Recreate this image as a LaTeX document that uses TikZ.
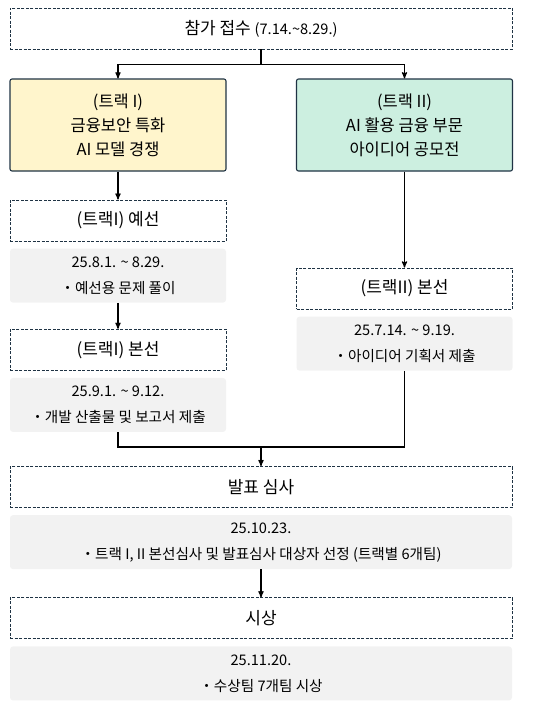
\documentclass[tikz,border=0pt]{standalone}
\usepackage{fontspec}
\setmainfont{Noto Sans CJK KR}
\usetikzlibrary{arrows,positioning}
\definecolor{edgeblue}{HTML}{1F3344}
\definecolor{notegray}{HTML}{F2F2F2}
\definecolor{trackone}{HTML}{FFF5CC}
\definecolor{tracktwo}{HTML}{CCEFE0}
\tikzset{
    %Define standard arrow tip
    >=stealth',
    %Define style for stage boxes
    stage/.style={
           rectangle,
           draw=edgeblue, line width=0.9pt,
           dash pattern=on 3pt off 1.5pt,
           minimum height=41pt,
           font=\fontsize{17}{20}\selectfont,
           text centered},
    %Define style for track boxes
    track/.style={
           rectangle,
           rounded corners=2pt,
           draw=edgeblue, line width=1.1pt,
           minimum height=92pt,
           font=\fontsize{16.5}{24}\selectfont,
           align=center},
    %Define style for date boxes
    note/.style={
           rectangle,
           rounded corners=3pt,
           fill=notegray,
           minimum height=54pt,
           font=\fontsize{14.6}{26}\selectfont,
           align=center},
    wide/.style={minimum width=502pt},
    half/.style={minimum width=216pt},
    % Define arrow style
    pil/.style={
           ->,
           line width=1.2pt}
}

\begin{document}
\begin{tikzpicture}[x=1pt,y=1pt]
\useasboundingbox (0,0) rectangle (552,-720);
\node[stage, wide] (intake) at (261,-28.5) {참가 접수 {\fontsize{14.6}{17}\selectfont(7.14.\textasciitilde 8.29.)}};
\node[track, half, fill=trackone] (trackA) at (118,-125) {(트랙 I)\\금융보안 특화\\AI 모델 경쟁};
\node[track, half, fill=tracktwo] (trackB) at (404.5,-125) {(트랙 II)\\AI 활용 금융 부문\\아이디어 공모전};
\node[stage, half, below=28pt of trackA] (prelimA) {(트랙I) 예선};
\node[note, half, below=7pt of prelimA] (prelimAnote) {25.8.1. \textasciitilde{} 8.29.\\・예선용 문제 풀이};
\node[stage, half, below=26pt of prelimAnote] (finalA) {(트랙I) 본선};
\node[note, half, below=7pt of finalA] (finalAnote) {25.9.1. \textasciitilde{} 9.12.\\・개발 산출물 및 보고서 제출};
\node[stage, half, below=96pt of trackB] (finalB) {(트랙II) 본선};
\node[note, half, below=7pt of finalB] (finalBnote) {25.7.14. \textasciitilde{} 9.19.\\・아이디어 기획서 제출};
\node[stage, wide] (review) at (261,-487) {발표 심사};
\node[note, wide, below=7pt of review] (reviewnote) {25.10.23.\\・트랙 I, II 본선심사 및 발표심사 대상자 선정 (트랙별 6개팀)};
\node[stage, wide, below=28pt of reviewnote] (award) {시상};
\node[note, wide, below=7pt of award] (awardnote) {25.11.20.\\・수상팀 7개팀 시상};
% split and merge points
\coordinate[below=15pt of intake] (split);
\coordinate[above=19pt of review] (merge);
\draw[pil] (intake) -- (split) -| (trackA);
\draw[pil] (split) -| (trackB);
\draw[pil] (trackA) -- (prelimA);
\draw[pil] (prelimAnote) -- (finalA);
\draw[pil] (trackB) -- (finalB);
\draw[line width=1.2pt] (finalAnote) |- (merge);
\draw[line width=1.2pt] (finalBnote) |- (merge);
\draw[pil] (merge) -- (review);
\draw[pil] (reviewnote) -- (award);
\end{tikzpicture}
\end{document}
